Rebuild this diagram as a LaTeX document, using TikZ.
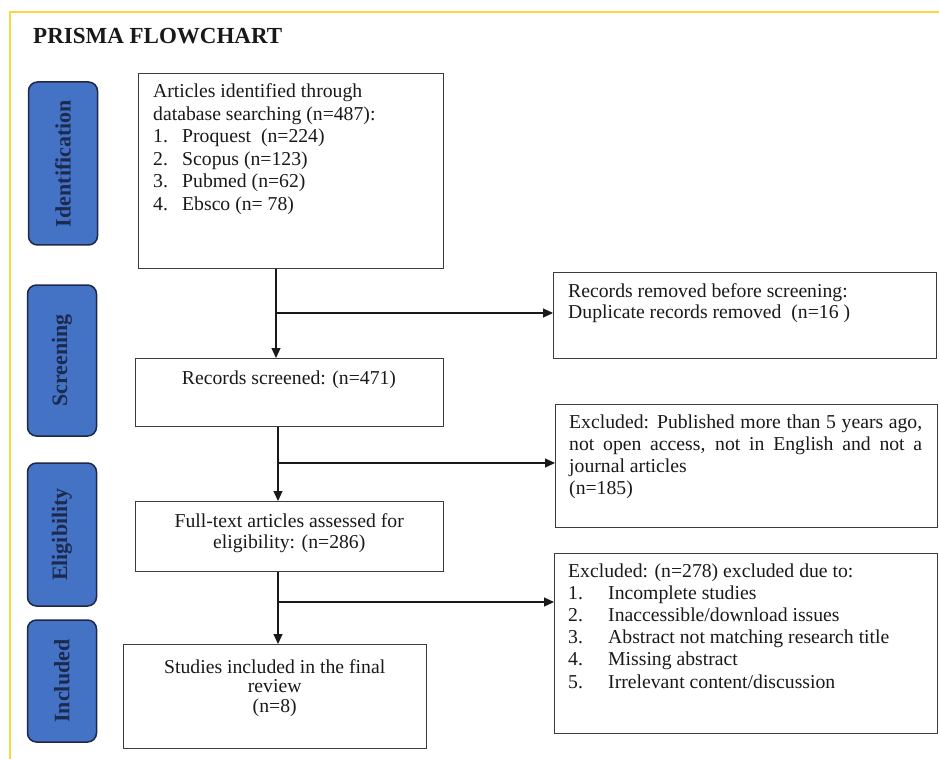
\documentclass[tikz,border=0pt]{standalone}
\usepackage{fontspec}
\setmainfont{Liberation Serif}
\usetikzlibrary{arrows.meta}

\definecolor{frameyellow}{RGB}{255,212,64}
\definecolor{phasefill}{RGB}{68,114,196}
\definecolor{phaseedge}{RGB}{30,40,70}
\definecolor{phasetext}{RGB}{28,42,80}
\definecolor{boxedge}{RGB}{60,60,60}
\definecolor{ink}{RGB}{25,25,25}

\tikzset{
  phase/.style={draw=phaseedge, fill=phasefill, line width=1.5pt, rounded corners=9pt,
    rotate=90, text=phasetext, font=\fontsize{22}{24}\selectfont\bfseries, inner sep=0pt},
  stagebox/.style={draw=boxedge, line width=1.3pt, anchor=north west, inner sep=0pt},
  body/.style={inner sep=0pt, anchor=base west, text=ink, font=\fontsize{19.7}{22.5}\selectfont},
  flow/.style={draw=ink, line width=1.2pt, -{Triangle[length=10pt,width=9pt]}},
}

\begin{document}
\begin{tikzpicture}[x=1pt,y=-1pt]
\useasboundingbox (0,0) rectangle (939,759);

% frame along the top and left edges
\draw[frameyellow, line width=2pt] (10,759) -- (10,12) -- (939,12);

% title
\node[anchor=base west, inner sep=0pt, text=ink, font=\fontsize{23}{26}\selectfont\bfseries]
  (title) at (33,44) {PRISMA FLOWCHART};

% phase labels
\node[phase, minimum width=163pt, minimum height=69pt] (p1) at (63,163.5) {Identification};
\node[phase, minimum width=151pt, minimum height=69pt] (p2) at (62,360.5) {Screening};
\node[phase, minimum width=143pt, minimum height=69pt] (p3) at (62,534.5) {Eligibility};
\node[phase, minimum width=122pt, minimum height=69pt] (p4) at (62,681) {Included};

% main column boxes
\node[stagebox, minimum width=305pt, minimum height=195pt] (b1) at (138,73) {};
\node[stagebox, minimum width=308pt, minimum height=68pt] (b2) at (135,358) {};
\node[stagebox, minimum width=308pt, minimum height=70pt] (b3) at (135,501) {};
\node[stagebox, minimum width=303pt, minimum height=104pt] (b4) at (123,644) {};

% side boxes
\node[stagebox, minimum width=383pt, minimum height=86pt] (rem) at (553,272) {};
\node[stagebox, minimum width=382pt, minimum height=123pt] (ex1) at (555,404) {};
\node[stagebox, minimum width=383pt, minimum height=180pt] (ex2) at (554,553) {};

% box texts
\node[body] (t1) at (153,98) {\parbox[t]{285pt}{%
  Articles identified through\\
  database searching (n=487):\\
  \makebox[29pt][l]{1.}Proquest~~(n=224)\\
  \makebox[29pt][l]{2.}Scopus (n=123)\\
  \makebox[29pt][l]{3.}Pubmed (n=62)\\
  \makebox[29pt][l]{4.}Ebsco (n=~78)}};

\node[body, anchor=base] (t2) at (289,384) {Records screened: (n=471)};

\node[body] (t3) at (135,527) {\parbox[t]{308pt}{\centering\baselineskip=21.5pt
  Full-text articles assessed for\\ eligibility: (n=286)}};

\node[body] (t4) at (123,673) {\parbox[t]{303pt}{\centering\baselineskip=19.5pt
  Studies included in the final\\ review\\ (n=8)}};

\node[body] (trem) at (568,297) {\parbox[t]{360pt}{\baselineskip=21.5pt
  Records removed before screening:\\
  Duplicate records removed~~(n=16~)}};

\node[body] (tex1) at (569,428) {\parbox[t]{360pt}{\baselineskip=22.3pt
  \makebox[353pt][s]{Excluded: Published more than 5 years ago,}\\
  \makebox[353pt][s]{not open access, not in English and not a}\\
  journal articles\\
  (n=185)}};

\node[body] (tex2) at (568,577) {\parbox[t]{360pt}{\baselineskip=22.2pt
  Excluded: (n=278) excluded due to:\\
  \makebox[40pt][l]{1.}Incomplete studies\\
  \makebox[40pt][l]{2.}Inaccessible/download issues\\
  \makebox[40pt][l]{3.}Abstract not matching research title\\
  \makebox[40pt][l]{4.}Missing abstract\\
  \makebox[40pt][l]{5.}Irrelevant content/discussion}};

% connectors
\coordinate (c1) at (276,313);
\coordinate (c2) at (278,463);
\coordinate (c3) at (278,602);

\draw[flow] (c1 |- b1.south) -- (c1 |- b2.north);
\draw[flow] (c1) -- (c1 -| rem.west);
\draw[flow] (c2 |- b2.south) -- (c2 |- b3.north);
\draw[flow] (c2) -- (c2 -| ex1.west);
\draw[flow] (c3 |- b3.south) -- (c3 |- b4.north);
\draw[flow] (c3) -- (c3 -| ex2.west);
\end{tikzpicture}
\end{document}
